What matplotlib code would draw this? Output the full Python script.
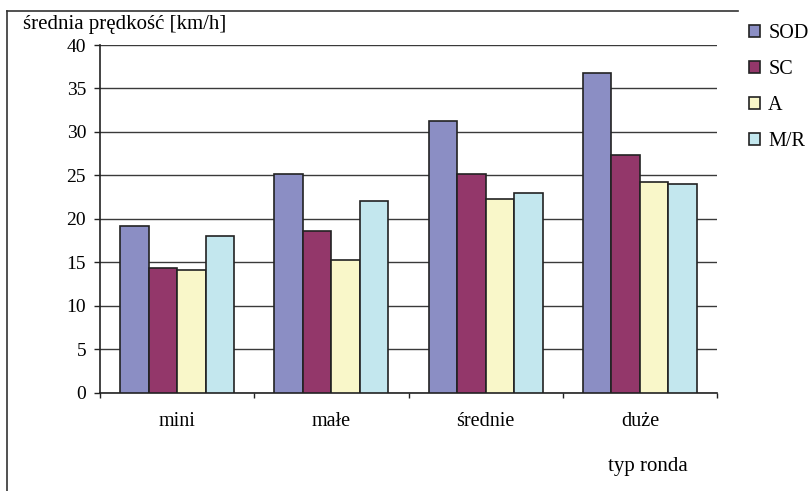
import matplotlib

matplotlib.use("Agg")
import matplotlib.pyplot as plt  # noqa: E402
import numpy as np  # noqa: E402
from matplotlib.lines import Line2D  # noqa: E402

plt.rcParams["font.family"] = ["Liberation Serif", "DejaVu Serif"]

categories = ["mini", "małe", "średnie", "duże"]
series_names = ["SOD", "SC", "A", "M/R"]
sod = [19.2, 25.2, 31.3, 36.8]
sc = [14.3, 18.6, 25.1, 27.3]
a = [14.1, 15.3, 22.3, 24.2]
mr = [18.0, 22.1, 23.0, 24.0]
colors = ["#8b8ec4", "#93376a", "#f9f7c9", "#c3e7ee"]
y_ticks = [0, 5, 10, 15, 20, 25, 30, 35, 40]

fig = plt.figure(figsize=(8.08, 4.91), dpi=100)
ax = fig.add_axes([100 / 808, 1 - 392.5 / 491, 617 / 808, 347.5 / 491])

x = np.arange(len(categories))
width = 0.185
offsets = (np.arange(4) - 1.5) * width
handles = []
for vals, name, col, off in zip([sod, sc, a, mr], series_names, colors, offsets):
    h = ax.bar(x + off, vals, width, color=col, edgecolor="#222222",
               linewidth=1.2, label=name, zorder=3)
    handles.append(h)

ax.set_xlim(-0.5, len(categories) - 0.5)
ax.set_ylim(0, 40)
ax.set_yticks(y_ticks)
ax.yaxis.grid(True, color="#3a3a3a", linewidth=1.0, zorder=0)
ax.set_axisbelow(True)

ax.set_xticks(x)
ax.set_xticklabels(categories)
ax.set_xticks(np.arange(len(categories) + 1) - 0.5, minor=True)
ax.tick_params(axis="x", which="major", length=0, pad=14, labelsize=14.5)
ax.tick_params(axis="x", which="minor", length=3.5, width=1, color="#222222")
ax.tick_params(axis="y", length=4, width=1, color="#222222", pad=6, labelsize=14)

for side in ("top", "right"):
    ax.spines[side].set_visible(False)
for side in ("left", "bottom"):
    ax.spines[side].set_color("#222222")
    ax.spines[side].set_linewidth(1.2)

fig.text(23 / 808, 1 - 25 / 491, "średnia prędkość [km/h]", fontsize=15,
         ha="left", va="center")
fig.text(648 / 808, 1 - 467 / 491, "typ ronda", fontsize=15,
         ha="center", va="center")

# outer chart frame (left and top edges only)
fig.add_artist(Line2D([7 / 808, 7 / 808], [0, 1 - 11 / 491],
                      transform=fig.transFigure, color="#333333", lw=1.2))
fig.add_artist(Line2D([7 / 808, 738 / 808], [1 - 11 / 491, 1 - 11 / 491],
                      transform=fig.transFigure, color="#333333", lw=1.2))

fig.legend(handles=handles, labels=series_names, loc="upper left",
           bbox_to_anchor=(741 / 808, 1 - 16 / 491), frameon=False,
           fontsize=14.5, handlelength=0.55, handleheight=0.55,
           handletextpad=0.4, labelspacing=0.85, borderaxespad=0)

fig.savefig("out.png", dpi=100)
plt.close(fig)
